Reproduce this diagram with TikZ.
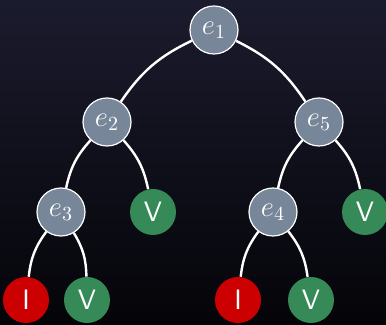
\documentclass[tikz,border=0pt]{standalone}
\usepackage{fontspec}
\definecolor{bgtop}{RGB}{27,27,46}
\definecolor{bgbot}{RGB}{4,4,8}
\definecolor{inner}{RGB}{119,134,153}
\definecolor{valid}{RGB}{54,138,88}
\definecolor{invalid}{RGB}{204,0,0}
\begin{document}
\begin{tikzpicture}[x=0.5pt,y=-0.5pt,
  innernode/.style={circle,fill=inner,draw=white,line width=0.6pt,minimum size=24pt,inner sep=0pt,text=white,font=\fontsize{14}{14}\selectfont},
  leafv/.style={circle,fill=valid,minimum size=23pt,inner sep=0pt,text=white,font=\sffamily\fontsize{14}{14}\selectfont},
  leafi/.style={circle,fill=invalid,minimum size=23pt,inner sep=0pt,text=white,font=\sffamily\fontsize{14}{14}\selectfont},
  edge/.style={draw=white,line width=1.2pt}]
\shade[top color=bgtop,bottom color=bgbot] (0,0) rectangle (386,325);
\useasboundingbox (0,0) rectangle (386,325);
\node[innernode] (e1) at (214,30) {$e_1$};
\node[innernode] (e2) at (107,122) {$e_2$};
\node[innernode] (e5) at (319,122) {$e_5$};
\node[innernode] (e3) at (61,212) {$e_3$};
\node[leafv] (v1) at (153,212) {V};
\node[innernode] (e4) at (273,212) {$e_4$};
\node[leafv] (v2) at (365,212) {V};
\node[leafi] (i1) at (26,300) {I};
\node[leafv] (v3) at (87,300) {V};
\node[leafi] (i2) at (238,300) {I};
\node[leafv] (v4) at (311,300) {V};
\path[edge] (e1) to[bend right=15] (e2);
\path[edge] (e1) to[bend left=15] (e5);
\path[edge] (e2) to[bend right=15] (e3);
\path[edge] (e2) to[bend left=15] (v1);
\path[edge] (e5) to[bend right=15] (e4);
\path[edge] (e5) to[bend left=15] (v2);
\path[edge] (e3) to[bend right=15] (i1);
\path[edge] (e3) to[bend left=15] (v3);
\path[edge] (e4) to[bend right=15] (i2);
\path[edge] (e4) to[bend left=15] (v4);
\end{tikzpicture}
\end{document}
